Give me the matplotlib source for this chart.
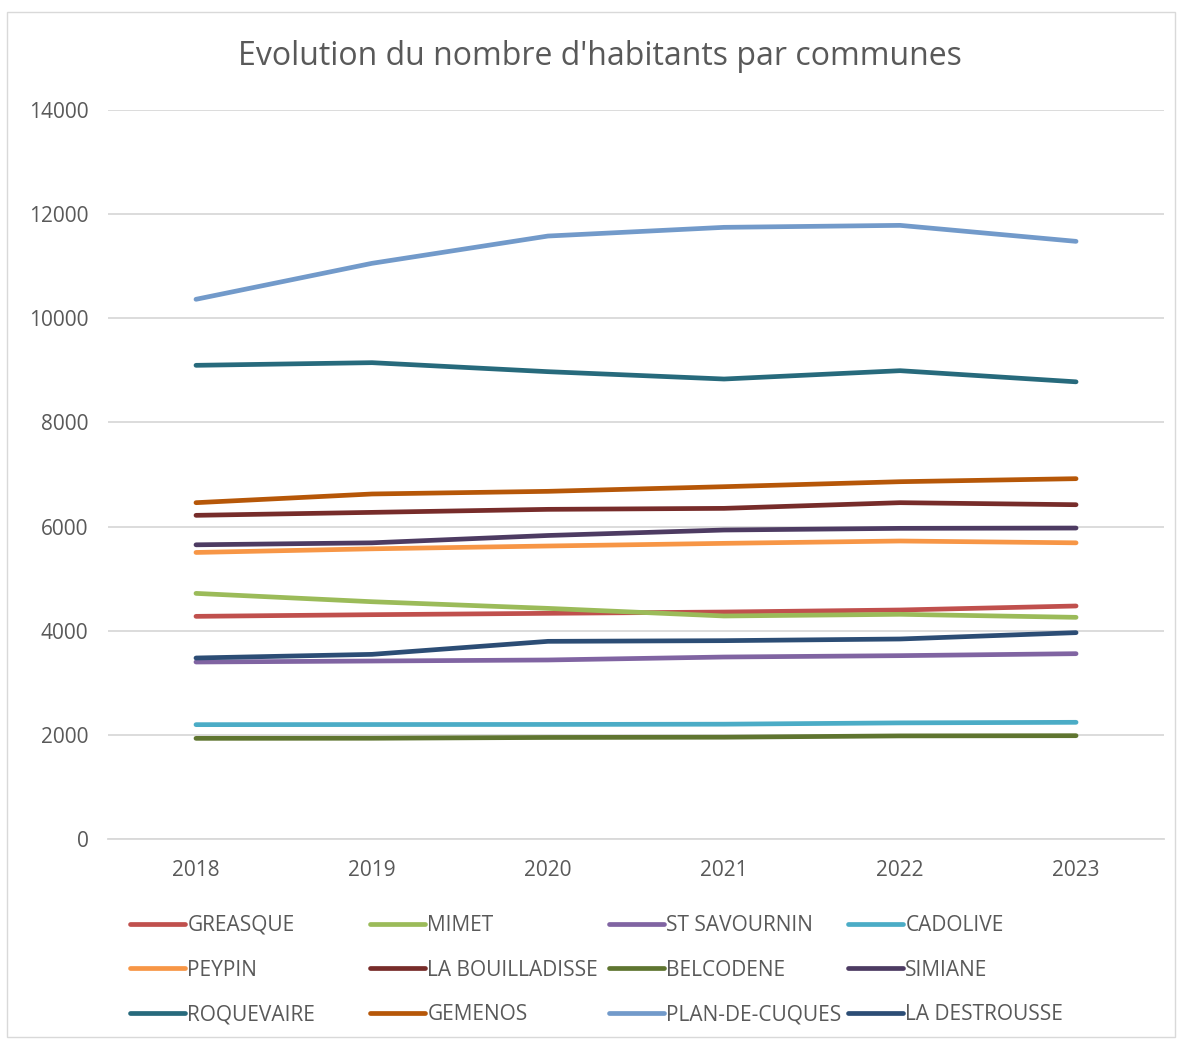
import matplotlib.pyplot as plt
from matplotlib.patches import Rectangle

years = ['2018', '2019', '2020', '2021', '2022', '2023']

communes = ['GREASQUE', 'MIMET', 'ST SAVOURNIN', 'CADOLIVE',
            'PEYPIN', 'LA BOUILLADISSE', 'BELCODENE', 'SIMIANE',
            'ROQUEVAIRE', 'GEMENOS', 'PLAN-DE-CUQUES', 'LA DESTROUSSE']

greasque = [4276, 4308, 4334, 4359, 4398, 4475]
mimet = [4717, 4557, 4429, 4283, 4315, 4257]
st_savournin = [3399, 3418, 3438, 3495, 3521, 3559]
cadolive = [2196, 2198, 2200, 2205, 2230, 2241]
peypin = [5503, 5573, 5627, 5678, 5723, 5688]
la_bouilladisse = [6216, 6273, 6331, 6350, 6459, 6420]
belcodene = [1933, 1935, 1950, 1955, 1980, 1984]
simiane = [5650, 5688, 5829, 5934, 5966, 5972]
roquevaire = [9097, 9148, 8975, 8834, 8994, 8780]
gemenos = [6459, 6626, 6677, 6766, 6862, 6920]
plan_de_cuques = [10365, 11056, 11580, 11747, 11785, 11478]
la_destrousse = [3476, 3546, 3796, 3809, 3841, 3963]

series = [greasque, mimet, st_savournin, cadolive, peypin, la_bouilladisse,
          belcodene, simiane, roquevaire, gemenos, plan_de_cuques, la_destrousse]

colors = ['#C0504D', '#9BBB59', '#8064A2', '#4BACC6', '#F79646', '#772C2A',
          '#5F7530', '#4D3B62', '#276A7C', '#B65708', '#729ACA', '#2C4D75']

plt.rcParams['font.family'] = ['Open Sans', 'DejaVu Sans']
txt = '#595959'

fig = plt.figure(figsize=(11.8, 10.39), dpi=100)
ax = fig.add_axes([0.0915, 0.1925, 0.895, 0.7016])

x = list(range(len(years)))
handles = []
for name, vals, c in zip(communes, series, colors):
    h, = ax.plot(x, vals, color=c, lw=3.4, solid_capstyle='round',
                 solid_joinstyle='round', label=name)
    handles.append(h)

ax.set_xlim(-0.5, len(years) - 0.5)
ax.set_ylim(0, 14000)
ax.set_yticks(range(0, 14001, 2000))
ax.set_xticks(x)
ax.set_xticklabels(years)
ax.grid(axis='y', color='#D9D9D9', lw=1.3)
ax.set_axisbelow(True)
for s in ['top', 'right', 'left']:
    ax.spines[s].set_visible(False)
ax.spines['bottom'].set_color('#D9D9D9')
ax.spines['bottom'].set_linewidth(1.3)
ax.tick_params(length=0, labelsize=15, labelcolor=txt)
ax.tick_params(axis='y', pad=14)
ax.tick_params(axis='x', pad=15)

fig.text(0.508, 0.946, "Evolution du nombre d'habitants par communes",
         ha='center', va='center', fontsize=23, color=txt)

# one legend per column so the columns sit at fixed positions
col_x = [0.1031, 0.3065, 0.509, 0.7116]
for c in range(4):
    idx = [r * 4 + c for r in range(3)]
    fig.legend([handles[i] for i in idx], [communes[i] for i in idx],
               loc='upper left', bbox_to_anchor=(col_x[c], 0.1275),
               frameon=False, fontsize=15, labelcolor=txt,
               handlelength=2.65, handletextpad=0.1,
               labelspacing=1.14, borderaxespad=0)

fig.patches.append(Rectangle((0.006, 0.002), 0.99, 0.986, transform=fig.transFigure,
                             fill=False, edgecolor='#D9D9D9', lw=1))

plt.savefig('out.png', dpi=100)
